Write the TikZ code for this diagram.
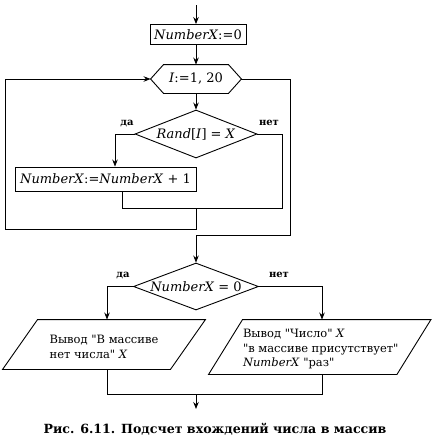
\documentclass[tikz,border=0pt]{standalone}
\usepackage{fontspec}
\setmainfont{DejaVu Serif}[Ligatures=TeXOff]
\usetikzlibrary{arrows.meta,shapes.geometric}
\begin{document}
\begin{tikzpicture}[x=1pt,y=-1pt,
  line width=0.9pt,
  arr/.style={-{Stealth[length=7pt,width=5.5pt]}},
  mtext/.style={font=\fontsize{13}{15}\selectfont},
  ctext/.style={font=\fontsize{11.5}{14.5}\selectfont, inner sep=0pt, align=left},
  box/.style={draw, rectangle, inner sep=0pt, mtext},
  dec/.style={draw, diamond, inner sep=0pt, mtext},
  ghost/.style={rectangle, inner sep=0pt},
  lab/.style={font=\fontsize{10}{12}\selectfont\bfseries, inner sep=0pt}]
\useasboundingbox (0,0) rectangle (434,442);

% nodes
\coordinate (start) at (196,5);
\node[box, minimum width=96pt, minimum height=20pt] (init) at (198,34.5) {\textit{NumberX}:=0};
\node[ghost, mtext, minimum width=90pt, minimum height=28pt] (loop) at (196,79) {\textit{I}:=1, 20};
\node[dec, minimum width=122pt, minimum height=48pt] (d1) at (196,134) {\makebox[0pt]{\textit{Rand}[\textit{I}] = \textit{X}}};
\node[box, minimum width=181pt, minimum height=24pt] (inc) at (105.5,179) {\textit{NumberX}:=\textit{NumberX} + 1};
\node[dec, minimum width=125pt, minimum height=47pt] (d2) at (196,286.5) {\makebox[0pt]{\textit{NumberX} = 0}};
\node[ghost, minimum width=167pt, minimum height=49pt] (outA) at (104,344.5) {};
\node[ctext] (outAt) at ([yshift=-2.5pt]outA.center) {Вывод "В массиве\\нет числа" \textit{X}};
\node[ghost, minimum width=187.5pt, minimum height=54pt] (outB) at (319.75,347) {};
\node[ctext] (outBt) at ([xshift=1pt,yshift=-2pt]outB.center)
  {Вывод "Число" \textit{X}\\"в массиве присутствует"\\\textit{NumberX} "раз"};
\coordinate (rj) at (282,208);
\coordinate (lj) at (122,208);
\coordinate (merge) at (196,208);
\coordinate (back) at (196,229);
\coordinate (lc) at (5,79);
\coordinate (ex) at (290,235);
\coordinate (exm) at (196,235);
\coordinate (m2) at (196,394);
\coordinate (finish) at (196,409);

% hexagon and parallelograms
\draw (loop.west) -- ([xshift=13pt]loop.north west) -- ([xshift=-13pt]loop.north east)
  -- (loop.east) -- ([xshift=-13pt]loop.south east) -- ([xshift=13pt]loop.south west) -- cycle;
\draw ([xshift=17.5pt]outA.north west) -- ([xshift=17.5pt]outA.north east)
  -- ([xshift=-17.5pt]outA.south east) -- ([xshift=-17.5pt]outA.south west) -- cycle;
\draw ([xshift=17pt]outB.north west) -- ([xshift=17pt]outB.north east)
  -- ([xshift=-17pt]outB.south east) -- ([xshift=-17pt]outB.south west) -- cycle;

% connectors
\draw[arr] (start) -- (init.north -| start);
\draw[arr] (init.south -| start) -- (loop.north);
\draw[arr] (loop.south) -- (d1.north);
\draw[arr] (d1.west) -| ([xshift=9.5pt]inc.north);
\draw (d1.east) -| (rj) -- (lj) -- (lj |- inc.south);
\draw[arr] (merge) -- (back) -| (lc) -- (loop.west);
\draw[arr] (loop.east) -| (ex) -- (exm) -- (d2.north);
\draw[arr] (d2.west) -| ([xshift=3pt]outA.north);
\draw[arr] (d2.east) -| ([xshift=2.25pt]outB.north);
\draw ([xshift=3pt]outA.south) |- (m2);
\draw ([xshift=2.25pt]outB.south) |- (m2);
\draw[arr] (m2) -- (finish);

% branch labels
\node[lab] (y1) at (127,124) {да};
\node[lab] (n1) at (269,123) {нет};
\node[lab] (y2) at (123,276) {да};
\node[lab] (n2) at (279,275) {нет};

% caption
\node[font=\fontsize{12.6}{15}\selectfont\bfseries, inner sep=0pt] (cap) at (215,429)
  {Рис. 6.11. Подсчет вхождений числа в массив};
\end{tikzpicture}
\end{document}
